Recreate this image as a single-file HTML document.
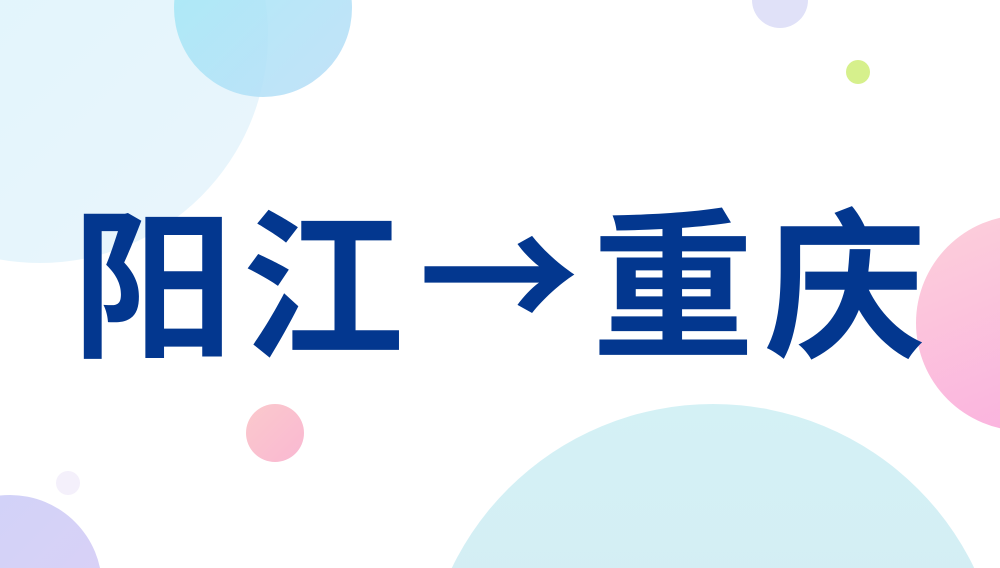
<!DOCTYPE html>
<html style="width:1000px;height:568px;overflow:hidden"><head><meta charset="utf-8"><style>
html,body{margin:0;padding:0}
body{width:1000px;height:568px;overflow:hidden;background:#fff}
#w{position:relative;width:1000px;height:568px;overflow:hidden}
svg{position:absolute;left:0;top:0}
.t{position:absolute;top:200px;font-family:"Liberation Sans","Noto Sans CJK SC",sans-serif;font-weight:bold;font-size:162px;line-height:180px;color:#03378f;width:170px;text-align:center}
</style></head><body><div id="w">
<svg width="1000" height="568" viewBox="0 0 1000 568">
<defs>
<linearGradient id="g1" x1="0" y1="0" x2="1" y2="1"><stop offset="0" stop-color="#d8f4fb"/><stop offset="1" stop-color="#e6f3fb"/></linearGradient>
<linearGradient id="g2" x1="0" y1="0" x2="1" y2="1"><stop offset="0" stop-color="#9feaf6"/><stop offset="1" stop-color="#b8dcf7"/></linearGradient>
<linearGradient id="g3" x1="0" y1="0" x2="0.4" y2="1"><stop offset="0" stop-color="#fcd0da"/><stop offset="1" stop-color="#fbb4df"/></linearGradient>
<linearGradient id="g4" x1="0" y1="0" x2="1" y2="1"><stop offset="0" stop-color="#fbc9cc"/><stop offset="1" stop-color="#f9b8d2"/></linearGradient>
<linearGradient id="g5" x1="0" y1="0" x2="1" y2="1"><stop offset="0" stop-color="#cfd3f8"/><stop offset="1" stop-color="#dcd0f6"/></linearGradient>
<linearGradient id="g6" x1="0" y1="0" x2="0" y2="1"><stop offset="0" stop-color="#d4f1f5"/><stop offset="1" stop-color="#d2e8f3"/></linearGradient>
</defs>
<circle cx="40" cy="35" r="228" fill="url(#g1)" opacity=".85"/>
<circle cx="263" cy="8" r="89" fill="url(#g2)" opacity=".85"/>
<circle cx="780" cy="0" r="28" fill="#e0e1f8"/>
<circle cx="858" cy="72" r="12" fill="#d6f08c"/>
<circle cx="1024" cy="323" r="108" fill="url(#g3)"/>
<circle cx="275" cy="433" r="29" fill="url(#g4)"/>
<circle cx="68" cy="483" r="12" fill="#f4f0fb"/>
<circle cx="10" cy="587" r="92" fill="url(#g5)"/>
<circle cx="713" cy="694" r="290" fill="url(#g6)"/>
</svg>
<div class="t" style="left:68px">阳</div>
<div class="t" style="left:238px">江</div>
<div class="t" style="left:414px;top:176px;font-family:'Noto Sans CJK SC',sans-serif">→</div>
<div class="t" style="left:588px">重</div>
<div class="t" style="left:760px">庆</div>
</div></body></html>
